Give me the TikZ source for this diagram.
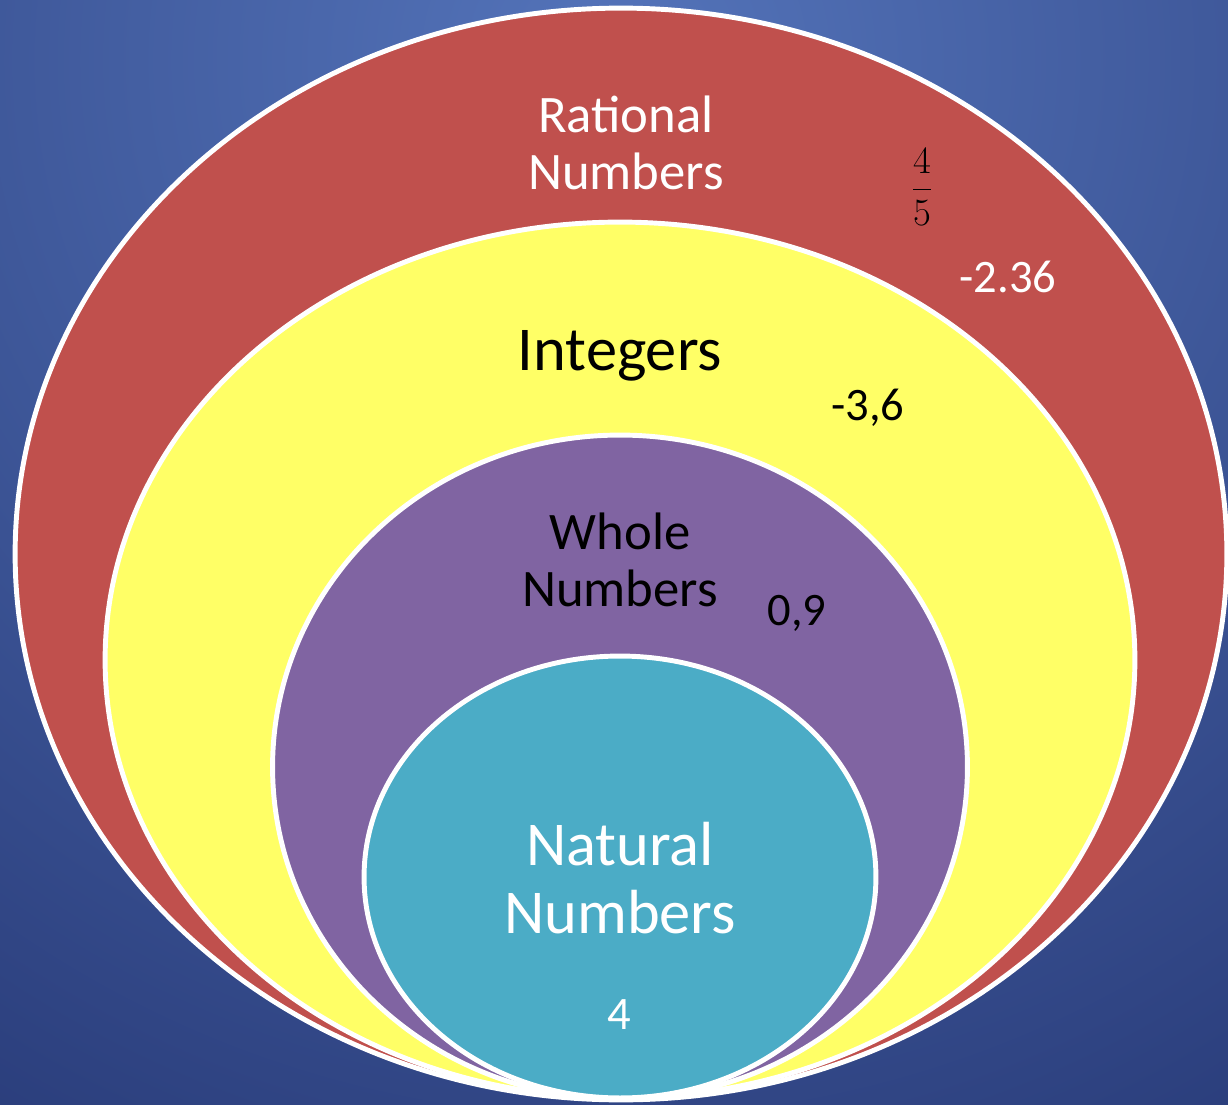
\documentclass[tikz,border=0pt]{standalone}
\usepackage{amsmath}
\usepackage{fix-cm}
\usepackage{fontspec}
\setmainfont{Carlito}
\usepackage{xcolor}
\definecolor{bginner}{HTML}{5474BA}
\definecolor{bgouter}{HTML}{2A3D7B}
\definecolor{ratred}{HTML}{C0504D}
\definecolor{intyellow}{HTML}{FFFF66}
\definecolor{wholepurple}{HTML}{8064A2}
\definecolor{natteal}{HTML}{4BACC6}
\tikzset{
  setline/.style={draw=white, line width=2.8pt},
  biglabel/.style={align=center, font=\fontsize{30}{32.5}\selectfont},
  hugelabel/.style={align=center, font=\fontsize{35.5}{39}\selectfont},
  numlabel/.style={font=\fontsize{26.5}{30}\selectfont}
}

\begin{document}
\begin{tikzpicture}[x=0.02cm, y=-0.02cm]
\useasboundingbox (0,0) rectangle (1228,1105);
% background
\begin{scope}
\clip (0,0) rectangle (1228,1105);
\fill[bgouter] (0,0) rectangle (1228,1105);
\shade[inner color=bginner, outer color=bgouter] (614,60) circle (25cm);
\end{scope}
% rational numbers
\filldraw[setline, fill=ratred] (621,554) ellipse (12.12cm and 10.92cm);
% integers
\filldraw[setline, fill=intyellow] (620,660) ellipse (10.3cm and 8.76cm);
% whole numbers
\filldraw[setline, fill=wholepurple] (620,767) ellipse (6.95cm and 6.64cm);
% natural numbers
\filldraw[setline, fill=natteal] (620,877) ellipse (5.12cm and 4.42cm);
% labels
\node[biglabel, text=white] (rational) at (626,143) {Rational\\Numbers};
\node (frac) at (922,187) {\fontsize{22}{24}\selectfont$\dfrac{4}{5}$};
\node[numlabel, text=white] (decimal) at (1008,277) {-2.36};
\node[hugelabel] (integers) at (620,356) {Integers};
\node[numlabel] (negint) at (868,408) {-3,6};
\node[biglabel] (whole) at (620,560) {Whole\\Numbers};
\node[numlabel] (wholeex) at (797,613) {0,9};
\node[hugelabel, text=white] (natural) at (620,878) {Natural\\Numbers};
\node[numlabel, text=white] (natex) at (619,1015) {4};
\end{tikzpicture}
\end{document}
